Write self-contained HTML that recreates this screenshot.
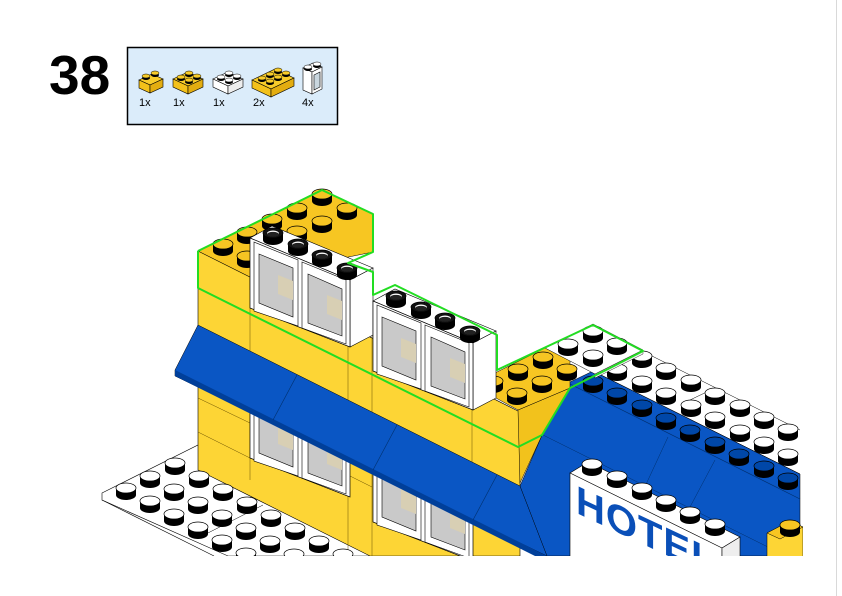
<!DOCTYPE html>
<html><head><meta charset="utf-8"><style>
html,body{margin:0;padding:0;background:#fff;}
body{width:842px;height:596px;overflow:hidden;position:relative;font-family:"Liberation Sans",sans-serif;}
</style></head><body>
<svg width="842" height="596" viewBox="0 0 842 596" xmlns="http://www.w3.org/2000/svg" style="position:absolute;left:0;top:0">
<defs>
<g id="sw"><ellipse cx="0" cy="7" rx="10" ry="5" fill="#000"/><rect x="-10" y="0" width="20" height="7" fill="#000"/><ellipse cx="0" cy="0" rx="10" ry="5" fill="#fff" stroke="#000" stroke-width="0.7"/></g>
<g id="sy"><ellipse cx="0" cy="7" rx="10" ry="5" fill="#000"/><rect x="-10" y="0" width="20" height="7" fill="#000"/><ellipse cx="0" cy="0" rx="10" ry="5" fill="#f6c523" stroke="#000" stroke-width="0.7"/></g>
<g id="sb"><ellipse cx="0" cy="7" rx="10" ry="5" fill="#000"/><rect x="-10" y="0" width="20" height="7" fill="#000"/><ellipse cx="0" cy="0" rx="10" ry="5" fill="#0047a8" stroke="#000" stroke-width="0.7"/></g>
<g id="sr"><ellipse cx="0" cy="7" rx="10" ry="5" fill="#000"/><rect x="-10" y="0" width="20" height="7" fill="#000"/><ellipse cx="0" cy="0" rx="10" ry="5" fill="#111" stroke="#000" stroke-width="0.7"/><ellipse cx="0" cy="0.5" rx="6" ry="3" fill="#fff"/><ellipse cx="0" cy="1.3" rx="6" ry="2.4" fill="#222"/></g>
<g id="ps"><ellipse cx="0" cy="2" rx="4" ry="2" fill="#000"/><ellipse cx="0" cy="0" rx="4" ry="2" fill="currentColor" stroke="#000" stroke-width="0.5"/></g>
<g id="winpair">
 <polygon points="250,238 350,280 350,347 250,308" fill="#fff" stroke="#000" stroke-width="0.7"/>
 <polygon points="254,242 298,260 298,326 254,311" fill="#fff" stroke="#000" stroke-width="0.6"/>
 <polygon points="302,262 346,280 346,344 302,328" fill="#fff" stroke="#000" stroke-width="0.6"/>
 <polygon points="259,254 293,268 293,317 259,303" fill="#c9c9c9" stroke="#000" stroke-width="0.6"/>
 <polygon points="308,274 342,289 342,336 308,323" fill="#c9c9c9" stroke="#000" stroke-width="0.6"/>
 <polygon points="278,275 293,281 293,300 278,294" fill="#d8cfb4"/>
 <polygon points="327,295 342,301 342,320 327,314" fill="#d8cfb4"/>
</g>
</defs>

<text x="49" y="94" font-size="55" font-weight="bold" fill="#000" font-family="Liberation Sans, sans-serif">38</text>
<rect x="127.5" y="47.5" width="210" height="77" fill="#dbecfa" stroke="#000" stroke-width="1.5"/>
<g stroke="#000" stroke-width="0.6">
 <polygon points="139,80 152,74 163,79 150,85" fill="#f8cc2a"/><polygon points="139,80 150,85 150,93 139,88" fill="#f3c11a"/><polygon points="150,85 163,79 163,87 150,93" fill="#e3ad10"/>
 <polygon points="173,79 188,72 203,79 188,86" fill="#f8cc2a"/><polygon points="173,79 188,86 188,94 173,87" fill="#f3c11a"/><polygon points="188,86 203,79 203,87 188,94" fill="#e3ad10"/>
 <polygon points="213,79 228,72 243,79 228,86" fill="#fff"/><polygon points="213,79 228,86 228,94 213,87" fill="#fff"/><polygon points="228,86 243,79 243,87 228,94" fill="#eee"/>
 <polygon points="252,80 275,69 294,78 271,89" fill="#f8cc2a"/><polygon points="252,80 271,89 271,97 252,88" fill="#f3c11a"/><polygon points="271,89 294,78 294,86 271,97" fill="#e3ad10"/>
 <polygon points="303,68 313,63 322,67 312,72" fill="#fff"/><polygon points="303,68 312,72 312,94 303,90" fill="#fff"/><polygon points="312,72 322,67 322,89 312,94" fill="#fff"/>
 <polygon points="314,75 320,72 320,87 314,90" fill="#c9d6de"/>
</g>
<g color="#f8cc2a"><use href="#ps" x="146" y="76"/><use href="#ps" x="155" y="73"/>
<use href="#ps" x="181" y="77"/><use href="#ps" x="189" y="73"/><use href="#ps" x="189" y="80"/><use href="#ps" x="197" y="76"/>
<use href="#ps" x="262" y="78"/><use href="#ps" x="270" y="74"/><use href="#ps" x="278" y="70"/><use href="#ps" x="270" y="81"/><use href="#ps" x="278" y="77"/><use href="#ps" x="286" y="73"/></g>
<g color="#fff"><use href="#ps" x="221" y="77"/><use href="#ps" x="229" y="73"/><use href="#ps" x="229" y="80"/><use href="#ps" x="237" y="76"/>
<use href="#ps" x="308" y="67"/><use href="#ps" x="317" y="64"/></g>
<g font-size="11" fill="#000"><text x="139" y="106">1x</text><text x="173" y="106">1x</text><text x="213" y="106">1x</text><text x="253" y="106">2x</text><text x="302" y="106">4x</text></g>

<rect x="836" y="0" width="1" height="596" fill="#d9d9d9"/>

<polygon points="102,493 200,444 420,554 416,556 228,556 102,500" fill="#fff" stroke="#000" stroke-width="0.6"/>
<line x1="102" y1="500" x2="214" y2="556" stroke="#000" stroke-width="0.6"/>
<line x1="200" y1="537" x2="263" y2="505" stroke="#000" stroke-width="0.5"/>

<polygon points="198,251 520,412 520,556 370,556 198,470" fill="#fdd535" stroke="#000" stroke-width="0.6"/>
<g stroke="#6b5200" stroke-width="0.5">
<line x1="250" y1="277" x2="250" y2="480"/><line x1="348" y1="300" x2="348" y2="556"/><line x1="372" y1="320" x2="372" y2="556"/><line x1="472" y1="388" x2="472" y2="556"/>
<line x1="198" y1="398" x2="250" y2="423"/><line x1="198" y1="432" x2="250" y2="458"/><line x1="348" y1="475" x2="372" y2="487"/>
</g>
<use href="#winpair" transform="translate(0,150)"/>
<use href="#winpair" transform="translate(123,214)"/>

<polygon points="568,383 593,371 800,474 800,556 540,556 520,486 543,433" fill="#0a56c4" stroke="#000" stroke-width="0.5"/>
<line x1="568" y1="383" x2="800" y2="499" stroke="#00306e" stroke-width="0.6"/>
<line x1="543" y1="435" x2="800" y2="563" stroke="#00306e" stroke-width="0.5"/>
<line x1="668" y1="437" x2="642" y2="493" stroke="#00306e" stroke-width="0.5"/>
<line x1="715" y1="460" x2="690" y2="507" stroke="#00306e" stroke-width="0.5"/>
<line x1="593" y1="371" x2="800" y2="474" stroke="#000" stroke-width="0.5"/>
<line x1="640" y1="350" x2="800" y2="430" stroke="#000" stroke-width="0.5"/>
<line x1="690" y1="400" x2="715" y2="388" stroke="#000" stroke-width="0.5"/>
<g>
<use href="#sw" x="642" y="356"/><use href="#sw" x="666" y="368"/><use href="#sw" x="691" y="380"/><use href="#sw" x="715" y="393"/><use href="#sw" x="740" y="405"/><use href="#sw" x="764" y="417"/><use href="#sw" x="788" y="429"/>
<use href="#sw" x="617" y="369"/><use href="#sw" x="642" y="381"/><use href="#sw" x="666" y="393"/><use href="#sw" x="691" y="405"/><use href="#sw" x="715" y="417"/><use href="#sw" x="740" y="430"/><use href="#sw" x="764" y="442"/><use href="#sw" x="788" y="454"/>
<use href="#sb" x="593" y="381"/><use href="#sb" x="617" y="393"/><use href="#sb" x="642" y="405"/><use href="#sb" x="666" y="418"/><use href="#sb" x="690" y="430"/><use href="#sb" x="715" y="442"/><use href="#sb" x="739" y="454"/><use href="#sb" x="764" y="466"/><use href="#sb" x="788" y="478"/>
</g>

<polygon points="198,325 520,486 547,556 175,376 175,370" fill="#0a56c4" stroke="#000" stroke-width="0.5"/>
<polygon points="175,370 547,556 535,556 175,376" fill="#003f9a"/>
<g stroke="#00306e" stroke-width="0.6">
<line x1="297" y1="375" x2="273" y2="420"/><line x1="397" y1="425" x2="373" y2="470"/><line x1="497" y1="475" x2="473" y2="520"/>
</g>

<polygon points="518,410 570,388 543,433 520,483" fill="#f2c21c" stroke="#000" stroke-width="0.5"/>
<polygon points="472,385 497,372 545,348 570,360 570,388 518,410" fill="#f7c622" stroke="#000" stroke-width="0.5"/>
<polygon points="545,348 593,324 643,350 595,374" fill="#fff" stroke="#000" stroke-width="0.5"/>
<polygon points="595,374 643,350 643,354 595,378" fill="#eee" stroke="#000" stroke-width="0.4"/>
<use href="#sy" x="493" y="381"/><use href="#sy" x="518" y="369"/><use href="#sy" x="543" y="357"/><use href="#sy" x="517" y="393"/><use href="#sy" x="542" y="381"/><use href="#sy" x="567" y="369"/>
<use href="#sw" x="593" y="331"/><use href="#sw" x="568" y="344"/><use href="#sw" x="617" y="343"/><use href="#sw" x="593" y="355"/>

<polygon points="198,251 322,190 373,214 373,252 250,277" fill="#f7c622" stroke="#000" stroke-width="0.5"/>
<line x1="250" y1="277" x2="250" y2="290" stroke="#000" stroke-width="0.5"/>
<use href="#sy" x="322" y="194"/><use href="#sy" x="347" y="208"/><use href="#sy" x="297" y="208"/><use href="#sy" x="322" y="221"/><use href="#sy" x="272" y="219"/><use href="#sy" x="297" y="231"/><use href="#sy" x="247" y="232"/><use href="#sy" x="223" y="244"/><use href="#sy" x="247" y="256"/>
<polygon points="348,300 372,312 372,320 350,330 348,330" fill="#fdd535"/>
<use href="#sy" x="365" y="316"/>

<g id="up1">
 <polygon points="250,238 272,226 373,268 350,280" fill="#fff" stroke="#000" stroke-width="0.6"/>
 <polygon points="350,280 373,268 373,335 350,347" fill="#fff" stroke="#000" stroke-width="0.6"/>
 <use href="#winpair"/>
 <use href="#sr" x="273" y="233"/><use href="#sr" x="298" y="244"/><use href="#sr" x="322" y="255"/><use href="#sr" x="347" y="268"/>
</g>
<use href="#up1" transform="translate(123,63)"/>

<polyline points="198,251 322,190 373,214 373,252 348,263 373,272 373,295 395,285 497,335 497,370 593,325 643,351 612,367 570,388 545,430 542,435 518,447 198,288 198,251" fill="none" stroke="#22dd22" stroke-width="2" stroke-linejoin="round"/>

<g>
<use href="#sw" x="126" y="488"/><use href="#sw" x="150" y="501"/><use href="#sw" x="174" y="514"/><use href="#sw" x="198" y="527"/><use href="#sw" x="222" y="540"/><use href="#sw" x="246" y="553"/>
<use href="#sw" x="150" y="476"/><use href="#sw" x="174" y="489"/><use href="#sw" x="198" y="502"/><use href="#sw" x="222" y="515"/><use href="#sw" x="246" y="528"/><use href="#sw" x="270" y="541"/><use href="#sw" x="294" y="554"/>
<use href="#sw" x="175" y="463"/><use href="#sw" x="199" y="476"/><use href="#sw" x="223" y="489"/><use href="#sw" x="247" y="502"/><use href="#sw" x="271" y="515"/><use href="#sw" x="295" y="528"/><use href="#sw" x="319" y="541"/><use href="#sw" x="343" y="554"/>
</g>

<polygon points="570,473 588,462 740,537 722,548" fill="#fff" stroke="#000" stroke-width="0.6"/>
<polygon points="570,473 722,548 722,560 570,560" fill="#fff" stroke="#000" stroke-width="0.6"/>
<polygon points="722,548 740,537 740,560 722,560" fill="#eee" stroke="#000" stroke-width="0.6"/>
<use href="#sw" x="592" y="464"/><use href="#sw" x="617" y="476"/><use href="#sw" x="642" y="488"/><use href="#sw" x="666" y="500"/><use href="#sw" x="690" y="512"/><use href="#sw" x="715" y="524"/>
<text transform="matrix(1,0.47,0,1,0,0)" x="576" y="242" font-size="40" font-weight="bold" fill="#0a4fb8" font-family="Liberation Sans, sans-serif" letter-spacing="1">HOTEL</text>

<polygon points="767,533 790,521 803,527 803,560 767,560" fill="#fdd535" stroke="#000" stroke-width="0.5"/>
<polygon points="767,533 790,521 803,527 780,539" fill="#f7c622" stroke="#000" stroke-width="0.5"/>
<use href="#sy" x="790" y="525"/>

<rect x="0" y="556" width="836" height="40" fill="#fff"/>
<rect x="803" y="150" width="33" height="420" fill="#fff"/>
</svg>
</body></html>
